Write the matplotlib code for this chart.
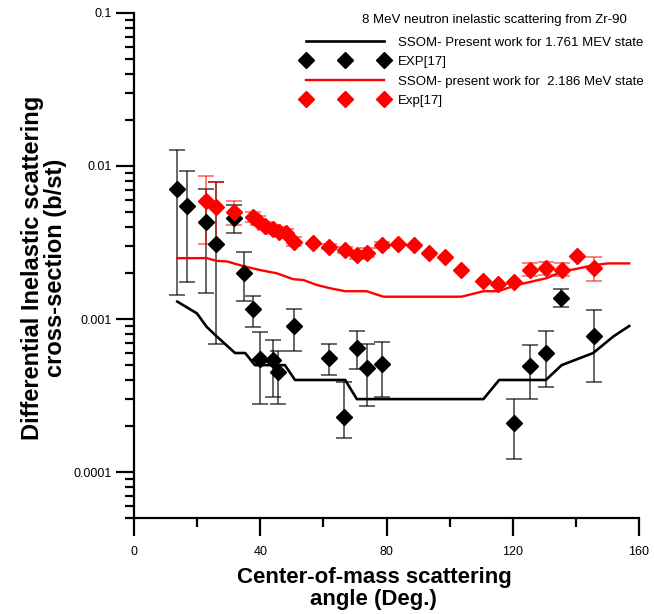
import numpy as np
import matplotlib
matplotlib.use('Agg')
import matplotlib.pyplot as plt
from matplotlib.ticker import FixedLocator, LogLocator, NullFormatter, FuncFormatter

plt.rcParams['font.family'] = ['Liberation Sans', 'DejaVu Sans']

# SSOM calculations
ang_1761 = [13.7, 19.9, 23.0, 26.2, 32.0, 35.2, 38.3, 47.8, 51.0, 66.9, 70.6, 110.7,
            115.7, 130.5, 135.5, 145.5, 151.9, 156.9]
ssom_1761 = [0.0013, 0.00109, 0.00089, 0.00077, 0.0006, 0.0006, 0.0005, 0.0005, 0.0004,
             0.0004, 0.0003, 0.0003, 0.0004, 0.0004, 0.0005, 0.0006, 0.00077, 0.0009]

ang_2186 = [13.7, 23.0, 26.2, 29.4, 35.2, 39.9, 45.2, 50.5, 53.6, 57.9, 62.1, 66.9, 73.7,
            79.0, 103.8, 110.7, 115.4, 121.3, 130.8, 135.5, 140.8, 145.5, 150.3, 156.9]
ssom_2186 = [0.0025, 0.0025, 0.0024, 0.00238, 0.0022, 0.00209, 0.00199, 0.00182, 0.0018,
             0.00167, 0.00159, 0.00152, 0.00152, 0.0014, 0.0014, 0.00152, 0.00152, 0.00167,
             0.00185, 0.00204, 0.00214, 0.00225, 0.00231, 0.00231]

# EXP[17], 1.761 MeV state
exp_ang_b = [13.7, 16.9, 22.8, 26.0, 31.7, 34.9, 37.8, 39.9, 43.9, 45.7, 50.8, 61.9, 66.5,
             70.8, 73.7, 78.7, 120.5, 125.5, 130.5, 135.4, 145.8]
exp_val_b = [0.0071, 0.0055, 0.0043, 0.0031, 0.0046, 0.0020, 0.00116, 0.00055, 0.00054,
             0.00045, 0.0009, 0.00056, 0.00023, 0.00065, 0.00048, 0.00051, 0.00021, 0.00049,
             0.0006, 0.00138, 0.00077]
exp_hi_b = [0.0127, 0.0093, 0.0071, 0.0078, 0.0056, 0.00275, 0.00142, 0.00082, 0.00073,
            0.00062, 0.00117, 0.00069, 0.00039, 0.00083, 0.00069, 0.00071, 0.0003, 0.00068,
            0.00084, 0.00157, 0.00115]
exp_lo_b = [0.00144, 0.00175, 0.00147, 0.00069, 0.00366, 0.00131, 0.00089, 0.00028, 0.00031,
            0.00028, 0.00062, 0.00043, 0.000167, 0.00047, 0.00027, 0.00031, 0.000121, 0.0003,
            0.00036, 0.00119, 0.00039]

# Exp[17], 2.186 MeV state
exp_ang_r = [22.8, 26.0, 31.7, 37.8, 39.4, 41.5, 44.1, 45.9, 48.1, 50.8, 56.8, 61.9, 66.9,
             70.8, 73.7, 78.7, 83.7, 88.7, 93.6, 98.5, 103.6, 110.5, 115.4, 120.5, 125.5,
             130.5, 135.5, 140.5, 145.8]
exp_val_r = [0.0059, 0.0054, 0.0050, 0.00467, 0.0044, 0.00406, 0.00385, 0.00372, 0.00363,
             0.0032, 0.00315, 0.00297, 0.00282, 0.00262, 0.00271, 0.00305, 0.00309, 0.00305,
             0.00271, 0.00255, 0.00209, 0.00177, 0.00169, 0.00175, 0.00209, 0.00214, 0.00209,
             0.00258, 0.00214]
exp_hi_r = [0.00865, 0.0078, 0.0059, 0.0050, 0.0047, 0.0043, 0.0041, 0.0040, 0.0039,
            0.00343, 0.00315, 0.0031, 0.00295, 0.0028, 0.0029, 0.0032, 0.00309, 0.00305,
            0.00271, 0.00255, 0.00209, 0.00177, 0.00169, 0.00175, 0.00231, 0.00236, 0.00231,
            0.00258, 0.00253]
exp_lo_r = [0.0031, 0.0031, 0.0041, 0.0043, 0.0041, 0.0038, 0.0036, 0.0035, 0.0034,
            0.0030, 0.00315, 0.00285, 0.0027, 0.00245, 0.00255, 0.0029, 0.00309, 0.00305,
            0.00271, 0.00255, 0.00209, 0.00177, 0.00169, 0.00175, 0.0019, 0.00195, 0.0019,
            0.00258, 0.00178]

x_ticks = [0, 40, 80, 120, 160]
y_ticks = [0.0001, 0.001, 0.01, 0.1]

fig = plt.figure(figsize=(6.54, 6.14), dpi=100)
ax = fig.add_axes([0.205, 0.156, 0.772, 0.823])


def draw_errors(ang, val, hi, lo, color, alpha):
    ang, val, hi, lo = map(np.array, (ang, val, hi, lo))
    m = (hi > val) | (lo < val)
    ax.errorbar(ang[m], val[m], yerr=[val[m] - lo[m], hi[m] - val[m]], fmt='none',
                ecolor=color, alpha=alpha, elinewidth=1.4, capsize=6, capthick=1.4, zorder=2)


draw_errors(exp_ang_b, exp_val_b, exp_hi_b, exp_lo_b, 'black', 0.6)
draw_errors(exp_ang_r, exp_val_r, exp_hi_r, exp_lo_r, 'red', 0.5)

ax.plot(ang_1761, ssom_1761, color='black', lw=1.9, zorder=3,
        label='SSOM- Present work for 1.761 MEV state')
ax.plot(exp_ang_b, exp_val_b, 'D', color='black', ms=8, ls='none', zorder=4,
        label='EXP[17]')
ax.plot(ang_2186, ssom_2186, color='red', lw=1.7, zorder=3,
        label='SSOM- present work for  2.186 MeV state')
ax.plot(exp_ang_r, exp_val_r, 'D', color='red', ms=8, ls='none', zorder=4,
        label='Exp[17]')

ax.set_yscale('log')
ax.set_xlim(0, 160)
ax.set_ylim(5e-5, 0.1)

ax.xaxis.set_major_locator(FixedLocator(x_ticks))
ax.xaxis.set_minor_locator(FixedLocator([20, 60, 100, 140]))
ax.yaxis.set_major_locator(FixedLocator(y_ticks))
ax.yaxis.set_minor_locator(LogLocator(base=10, subs=np.arange(2, 10)))
ax.yaxis.set_major_formatter(FuncFormatter(lambda v, p: '%g' % v))
ax.yaxis.set_minor_formatter(NullFormatter())

for s in ['top', 'right']:
    ax.spines[s].set_visible(False)
for s in ['left', 'bottom']:
    ax.spines[s].set_linewidth(1.6)

ax.tick_params(which='major', length=13, width=1.6, labelsize=9)
ax.tick_params(which='minor', length=6.5, width=1.6)
ax.tick_params(axis='x', which='major', pad=7)
ax.tick_params(axis='y', which='major', pad=3)

ax.set_xlabel('Center-of-mass scattering\nangle (Deg.)', fontsize=16, fontweight='bold',
              linespacing=1.05)
ax.xaxis.set_label_coords(0.475, -0.097)
ax.set_ylabel('Differential Inelastic scattering\ncross-section (b/st)', fontsize=17,
              fontweight='bold', linespacing=1.0)
ax.yaxis.set_label_coords(-0.133, 0.495)

leg = ax.legend(loc='upper right', bbox_to_anchor=(1.0, 0.958), bbox_transform=fig.transFigure,
                frameon=False, fontsize=9.5, numpoints=3, handlelength=6.5,
                handletextpad=0.75, labelspacing=0.55, borderpad=0.3)
fig.text(494 / 654, 1 - 20 / 614, '8 MeV neutron inelastic scattering from Zr-90',
         fontsize=9.5, ha='center', va='center')

fig.savefig('out.png', dpi=100)
